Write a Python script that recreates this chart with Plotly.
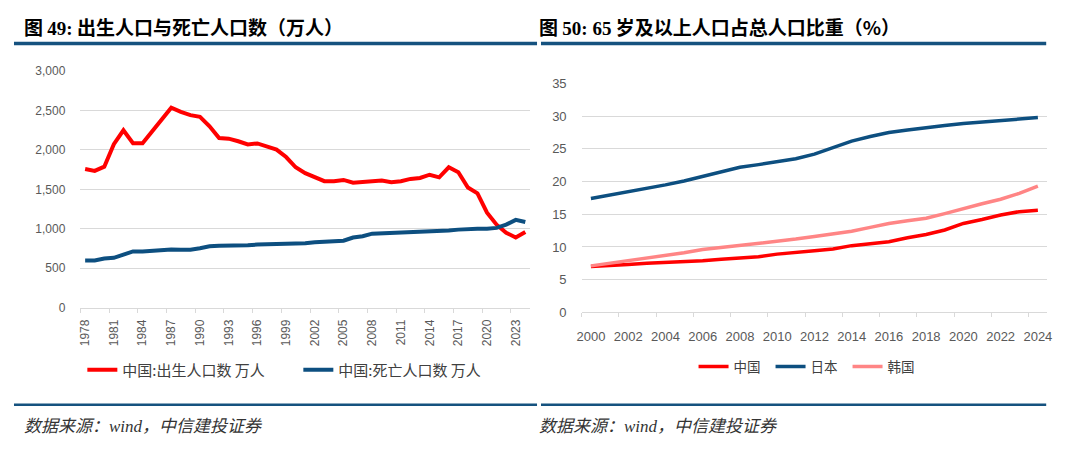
import plotly.graph_objects as go

# ---------------- data ----------------
years_left = list(range(1978, 2025))
births = [1759, 1735, 1788, 2074, 2249, 2086, 2086, 2237, 2400, 2535,
          2482, 2441, 2420, 2300, 2150, 2143, 2110, 2070, 2082, 2040,
          2004, 1910, 1780, 1706, 1653, 1604, 1604, 1620, 1584, 1596,
          1604, 1612, 1592, 1604, 1633, 1645, 1686, 1653, 1780, 1718,
          1523, 1449, 1204, 1053, 951, 890, 959]
deaths = [600, 600, 624, 633, 673, 714, 714, 722, 735, 739,
          735, 735, 755, 780, 785, 788, 780, 792, 800, 802,
          805, 808, 816, 818, 829, 833, 837, 849, 890, 906,
          939, 943, 951, 958, 967, 970, 971, 975, 980, 990,
          1000, 1000, 1000, 1012, 1053, 1114, 1086]
left_ticks = list(range(1978, 2024, 3))

years_right = list(range(2000, 2025))
china = [7.0, 7.1, 7.3, 7.5, 7.6, 7.7, 7.9, 8.1, 8.3, 8.5, 8.9, 9.1, 9.4,
         9.7, 10.2, 10.5, 10.8, 11.4, 11.9, 12.6, 13.6, 14.2, 14.9, 15.4, 15.6]
japan = [17.4, 17.9, 18.4, 18.9, 19.5, 20.1, 20.8, 21.5, 22.2, 22.6, 23.0,
         23.5, 24.2, 25.2, 26.2, 26.9, 27.5, 27.9, 28.3, 28.6, 28.9, 29.1,
         29.4, 29.6, 29.8]
korea = [7.1, 7.5, 7.9, 8.2, 8.6, 9.1, 9.6, 9.9, 10.3, 10.6, 10.9, 11.2,
         11.6, 12.0, 12.4, 13.0, 13.6, 14.0, 14.4, 15.1, 15.9, 16.6, 17.3,
         18.2, 19.3]
right_ticks = list(range(2000, 2025, 2))

title_left = '图 <span style="font-family:Liberation Serif">49:</span> 出生人口与死亡人口数（万人）'
title_right = '图 <span style="font-family:Liberation Serif">50: 65</span> 岁及以上人口占总人口比重（%）'
source_text = '<i>数据来源：<span style="font-family:Liberation Serif">wind</span>，中信建投证券</i>'

RED = "#FF0000"
BLUE = "#0D4F80"
PINK = "#FF8585"
GRID = "#D9D9D9"
TICK = "#595959"
HEAD = "#15527F"

# the page body keeps its default 8px margin, so the figure is sized to
# fill the 1080x459 window exactly and positions are given in window px
OFF = 8
W, H = 1080 - 2 * OFF, 459 - 2 * OFF


def px_x(p):
    return (p - OFF) / W


def px_y(p):
    return 1 - (p - OFF) / H


fig = go.Figure()

fig.add_trace(go.Scatter(x=years_left, y=births, mode="lines", name="中国:出生人口数 万人",
                         line=dict(color=RED, width=4), xaxis="x", yaxis="y", legend="legend"))
fig.add_trace(go.Scatter(x=years_left, y=deaths, mode="lines", name="中国:死亡人口数 万人",
                         line=dict(color=BLUE, width=4), xaxis="x", yaxis="y", legend="legend"))

fig.add_trace(go.Scatter(x=years_right, y=china, mode="lines", name="中国",
                         line=dict(color=RED, width=3.5), xaxis="x2", yaxis="y2", legend="legend2"))
fig.add_trace(go.Scatter(x=years_right, y=japan, mode="lines", name="日本",
                         line=dict(color=BLUE, width=3.5), xaxis="x2", yaxis="y2", legend="legend2"))
fig.add_trace(go.Scatter(x=years_right, y=korea, mode="lines", name="韩国",
                         line=dict(color=PINK, width=3.5), xaxis="x2", yaxis="y2", legend="legend2"))

axis_font = dict(family="Liberation Sans, Arial, sans-serif", size=12, color=TICK)

fig.update_layout(
    width=W, height=H, autosize=False,
    margin=dict(l=0, r=0, t=0, b=0),
    paper_bgcolor="white", plot_bgcolor="white",
    showlegend=True,
    xaxis=dict(domain=[px_x(76), px_x(530)], range=[1977.5, 2024.5],
               tickmode="array", tickvals=left_ticks, ticktext=[str(v) for v in left_ticks],
               tickangle=-90, tickfont=axis_font, ticks="", showgrid=False,
               showline=True, linecolor=GRID, linewidth=1, zeroline=False,
               ticklabelstandoff=6,
               minor=dict(tickmode="array", tickvals=[1977.5 + 3 * i for i in range(16)],
                          ticks="outside", ticklen=4, tickcolor=GRID, showgrid=False),
               anchor="y"),
    yaxis=dict(domain=[px_y(311), px_y(66)], range=[0, 3000],
               tickmode="array", tickvals=[0, 500, 1000, 1500, 2000, 2500, 3000],
               tickformat=",d", tickfont=axis_font, showgrid=True, gridcolor=GRID,
               gridwidth=1, zeroline=False, showline=False, ticks="",
               ticklabelstandoff=14, anchor="x"),
    xaxis2=dict(domain=[px_x(582), px_x(1052)], range=[1999.5, 2024.5],
                tickmode="array", tickvals=right_ticks, ticktext=[str(v) for v in right_ticks],
                tickangle=0, tickfont=dict(family="Liberation Sans, Arial, sans-serif", size=13, color=TICK),
                ticks="", showgrid=False, showline=True, linecolor=GRID, linewidth=1,
                zeroline=False, ticklabelstandoff=12,
                minor=dict(tickmode="array", tickvals=[1999.5 + 2 * i for i in range(13)],
                           ticks="outside", ticklen=4, tickcolor=GRID, showgrid=False),
                anchor="y2"),
    yaxis2=dict(domain=[px_y(315.7), px_y(79)], range=[0, 35],
                tickmode="array", tickvals=[0, 5, 10, 15, 20, 25, 30, 35],
                tickfont=dict(family="Liberation Sans, Arial, sans-serif", size=13, color=TICK),
                showgrid=True, gridcolor=GRID, gridwidth=1, zeroline=False, showline=False,
                ticks="", ticklabelstandoff=14, anchor="x2"),
    legend=dict(orientation="h", x=px_x(78), y=px_y(375.5), xanchor="left", yanchor="middle",
                font=dict(family="Noto Sans CJK SC", size=15, color="#404040"),
                entrywidth=171, entrywidthmode="pixels", itemwidth=30,
                bgcolor="rgba(0,0,0,0)", tracegroupgap=0),
    legend2=dict(orientation="h", x=px_x(695), y=px_y(372), xanchor="left", yanchor="middle",
                 font=dict(family="Noto Sans CJK SC", size=13.5, color="#404040"),
                 entrywidth=32, entrywidthmode="pixels", itemwidth=30,
                 bgcolor="rgba(0,0,0,0)"),
)

shapes = []
# header rules
shapes.append(dict(type="line", xref="paper", yref="paper", x0=px_x(9), x1=px_x(537),
                   y0=px_y(37.5), y1=px_y(37.5), line=dict(color=HEAD, width=3.5)))
shapes.append(dict(type="line", xref="paper", yref="paper", x0=px_x(541), x1=px_x(1051),
                   y0=px_y(37.5), y1=px_y(37.5), line=dict(color=HEAD, width=3.5)))
# footer rules
shapes.append(dict(type="line", xref="paper", yref="paper", x0=px_x(9), x1=px_x(537),
                   y0=px_y(411.5), y1=px_y(411.5), line=dict(color=HEAD, width=2.5)))
shapes.append(dict(type="line", xref="paper", yref="paper", x0=px_x(541), x1=px_x(1051),
                   y0=px_y(411.5), y1=px_y(411.5), line=dict(color=HEAD, width=2.5)))
fig.update_layout(shapes=shapes)

title_font = dict(family="Noto Sans CJK SC", size=19, color="#000000")
src_font = dict(family="Noto Sans CJK SC", size=17, color="#333333")
annotations = [
    dict(text="<b>" + title_left + "</b>", x=px_x(17), y=px_y(20), xref="paper", yref="paper",
         xanchor="left", yanchor="middle", showarrow=False, font=title_font),
    dict(text="<b>" + title_right + "</b>", x=px_x(537), y=px_y(20), xref="paper", yref="paper",
         xanchor="left", yanchor="middle", showarrow=False, font=title_font),
    dict(text=source_text, x=px_x(17), y=px_y(432), xref="paper", yref="paper",
         xanchor="left", yanchor="middle", showarrow=False, font=src_font),
    dict(text=source_text, x=px_x(537), y=px_y(432), xref="paper", yref="paper",
         xanchor="left", yanchor="middle", showarrow=False, font=src_font),
]
fig.update_layout(annotations=annotations)

fig.write_html("out.html")
